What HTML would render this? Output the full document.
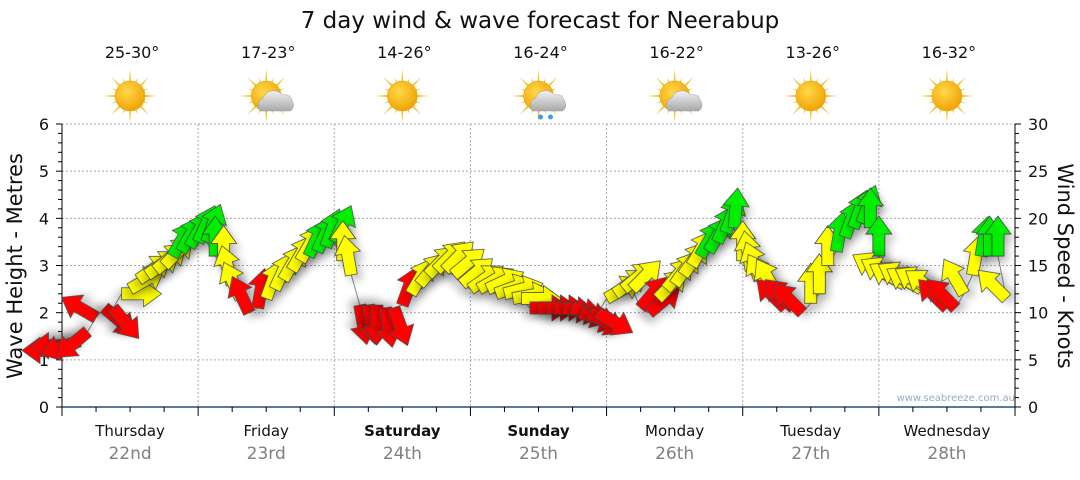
<!DOCTYPE html>
<html><head><meta charset="utf-8"><style>
body{margin:0;background:#fff;}
svg text{font-family:"DejaVu Sans","Liberation Sans",sans-serif;}
</style></head><body>
<svg id="chart" width="1080" height="475" viewBox="0 0 1080 475" xmlns="http://www.w3.org/2000/svg">
<defs>
<filter id="sh" x="-50%" y="-50%" width="200%" height="200%"><feDropShadow dx="4" dy="6" stdDeviation="4" flood-color="#000" flood-opacity="0.22"/></filter>
<radialGradient id="sunG" cx="0.4" cy="0.35" r="0.7"><stop offset="0" stop-color="#ffd84a"/><stop offset="1" stop-color="#f0a000"/></radialGradient>
<linearGradient id="cloudG" x1="0" y1="0" x2="0" y2="1"><stop offset="0" stop-color="#f2f2f2"/><stop offset="1" stop-color="#a8a8a8"/></linearGradient>
</defs>
<text x="540" y="28" text-anchor="middle" font-size="23" fill="#111">7 day wind &amp; wave forecast for Neerabup</text>
<g id="grid"></g>
<g id="axes"></g>
<g id="weather"></g>
<g id="marks"></g>
<text x="1015" y="401" text-anchor="end" font-size="10" fill="#9aaac0">www.seabreeze.com.au</text>
<text transform="translate(22,266) rotate(-90)" text-anchor="middle" font-size="21" fill="#111">Wave Height - Metres</text>
<text transform="translate(1058,266) rotate(90)" text-anchor="middle" font-size="21" fill="#111">Wind Speed - Knots</text>
</svg>
<script>
const days = ["Thursday","Friday","Saturday","Sunday","Monday","Tuesday","Wednesday"];
const dates = ["22nd","23rd","24th","25th","26th","27th","28th"];
const boldDays = [false,false,true,true,false,false,false];
const temps = ["25-30°","17-23°","14-26°","16-24°","16-22°","13-26°","16-32°"];
const icons = ["sun","cloud","sun","rain","cloud","sun","sun"];
const waveTicks = [0,1,2,3,4,5,6];
const windTicks = [0,5,10,15,20,25,30];
// wind: hours from Thursday 00:00
const hours = [0,1.5,3,4.5,6,7.5,9,10.5,12,13.5,15,16.5,18,19.5,21,22.5,
24,25.5,27,28.5,30,31.5,33,34.5,36,37.5,39,40.5,42,43.5,45,46.5,
48,49.5,51,52.5,54,55.5,57,58.5,60,61.5,63,64.5,66,67.5,69,70.5,
72,73.5,75,76.5,78,79.5,81,82.5,84,85.5,87,88.5,90,91.5,93,94.5,
96,97.5,99,100.5,102,103.5,105,106.5,108,109.5,111,112.5,114,115.5,117,118.5,
120,121.5,123,124.5,126,127.5,129,130.5,132,133.5,135,136.5,138,139.5,141,142.5,
144,145.5,147,148.5,150,151.5,153,154.5,156,157.5,159,160.5,162,163.5,165,166.5];
// wind speed in knots
const speeds = [6,6.5,7,8,9.5,10.5,10.5,12,12.5,13.5,14,14.5,15,16,16.5,17,
17.5,17.5,16,15,13,11.5,10,10.5,11.5,12.5,13.5,14.5,15.5,16,16.5,17,
17.5,15.5,14,10.8,10.8,10.8,10.5,10.5,10.8,12,13,14,14.5,14.5,14,13,
12.5,12.5,12.5,12,12,11.5,11.5,10.5,10.5,10.5,10.5,10.5,10.5,10,10,10,
11.5,12,12.5,12.5,10.5,10,11.5,12.5,13,14,15,16,16.5,17.5,18.5,19,
15.5,14.5,13.5,12.5,12,10.5,10.5,10,11,12,15,16.5,18,19,19.5,19,
16,14,13.5,13,13,12.5,12.5,12,10.5,10.5,12,14,16,16,16,11.5];
// direction the arrow points (deg, 0 = up, clockwise)
const dirs = [270,270,250,230,300,130,140,90,60,55,55,50,45,30,30,30,
25,20,0,0,345,335,335,10,20,25,30,30,30,25,25,20,
25,0,350,170,170,180,170,160,20,30,40,45,45,45,50,50,
55,60,65,70,75,80,90,90,90,90,95,100,110,110,120,120,
60,55,50,45,40,50,45,40,35,35,30,30,30,25,20,5,
0,350,340,330,330,315,315,315,0,0,0,10,20,20,20,0,
0,300,300,300,300,300,300,305,315,315,330,10,10,0,0,315];

const X0=62, X1=1015, Y0=407, Y1=124;
const xh = h => X0 + h*(X1-X0)/168;
const yWave = m => Y0 - m*(Y0-Y1)/6;
const yKn = k => Y0 - k*(Y0-Y1)/30;
const NS="http://www.w3.org/2000/svg";
function mk(tag, attrs, parent){const e=document.createElementNS(NS,tag);for(const k in attrs)e.setAttribute(k,attrs[k]);parent.appendChild(e);return e;}
const grid=document.getElementById('grid'), axes=document.getElementById('axes'), weather=document.getElementById('weather'), marks=document.getElementById('marks');

waveTicks.forEach(m=>{ if(m===0)return;
  const l=mk('line',{x1:X0,x2:X1,y1:yWave(m),y2:yWave(m),stroke:'#aaa','stroke-dasharray':'2,2','stroke-width':1},grid);
  
  
});
days.forEach((d,i)=>{ if(i===0)return;
  const x=xh(i*24);
  const l=mk('line',{x1:x,x2:x,y1:Y1,y2:Y0,stroke:'#aaa','stroke-dasharray':'2,2','stroke-width':1},grid);
  
  
});
mk('line',{x1:X0,x2:X0,y1:Y1,y2:Y0,stroke:'#000'},axes);
mk('line',{x1:X1,x2:X1,y1:Y1,y2:Y0,stroke:'#000'},axes);
mk('line',{x1:X0,x2:X1,y1:Y0,y2:Y0,stroke:'#1f4e79','stroke-width':1.5},axes);
for(let m=0;m<=6.001;m+=0.2){const y=yWave(m);const major=Math.abs(m-Math.round(m))<0.01;
  mk('line',{x1:major?X0-6:X0-4,x2:X0,y1:y,y2:y,stroke:'#000'},axes);}
waveTicks.forEach(m=>{const t=mk('text',{x:X0-13,y:yWave(m)+6,'text-anchor':'end','font-size':16,fill:'#111'},axes);t.textContent=m;
  
  });
for(let k=0;k<=30;k++){const y=yKn(k);mk('line',{x1:X1,x2:k%5===0?X1+6:X1+4,y1:y,y2:y,stroke:'#000'},axes);}
windTicks.forEach(k=>{const t=mk('text',{x:X1+13,y:yKn(k)+6,'font-size':16,fill:'#111'},axes);t.textContent=k;
  
  });
for(let h=0;h<=168;h+=6){const x=xh(h);mk('line',{x1:x,x2:x,y1:Y0,y2:Y0+(h%24===0?9:5),stroke:'#000'},axes);}
days.forEach((d,i)=>{const cx=xh(i*24+12);
  const t=mk('text',{x:cx,y:436,'text-anchor':'middle','font-size':15,fill:'#111','font-weight':boldDays[i]?'bold':'normal'},axes);t.textContent=d;
  
  
  const t2=mk('text',{x:cx,y:459,'text-anchor':'middle','font-size':17,fill:'#808080'},axes);t2.textContent=dates[i];
  
  
  const t3=mk('text',{x:cx+2,y:58,'text-anchor':'middle','font-size':16,fill:'#111'},weather);t3.textContent=temps[i];
  
  
  const g=mk('g',{transform:`translate(${cx},96)`},weather);
  
  
  for(let a=0;a<16;a++){const r=a%2?20:27;const ang=a*Math.PI/8;
    const w=0.12;
    mk('polygon',{points:`${Math.cos(ang-w)*11},${Math.sin(ang-w)*11} ${Math.cos(ang)*r},${Math.sin(ang)*r} ${Math.cos(ang+w)*11},${Math.sin(ang+w)*11}`,fill:'#f5c030'},g);}
  mk('circle',{cx:0,cy:0,r:15,fill:'url(#sunG)',stroke:'#e8a000','stroke-width':0.5},g);
  if(icons[i]!=='sun'){
    mk('path',{d:'M-6,15 a8,8 0 0 1 3,-13 a11,11 0 0 1 19,-3 a8,8 0 0 1 10,6 a7,7 0 0 1 -2,10 z',fill:'url(#cloudG)',stroke:'#999','stroke-width':0.5},g);
    if(icons[i]==='rain'){mk('circle',{cx:2,cy:21,r:2.5,fill:'#3aa0e0'},g);mk('circle',{cx:12,cy:21,r:2.5,fill:'#3aa0e0'},g);}
  }
});
let d='';hours.forEach((h,i)=>{d+=(i?'L':'M')+xh(h)+','+yKn(speeds[i]);});
const ln=mk('path',{d:d,fill:'none',stroke:'#888','stroke-width':1},marks);


const colorOf=k=>k<11?'#ff0000':(k<16?'#ffff00':'#00ee00');
hours.forEach((h,i)=>{
  const p=mk('polygon',{points:'-6,0 6,0 6,-22 13,-22 0,-40 -13,-22 -6,-22',
    transform:`translate(${xh(h)},${yKn(speeds[i])}) rotate(${dirs[i]})`,
    fill:colorOf(speeds[i]),stroke:'#444','stroke-width':0.8,filter:'url(#sh)'},marks);
  
  
});
</script>
</body></html>
